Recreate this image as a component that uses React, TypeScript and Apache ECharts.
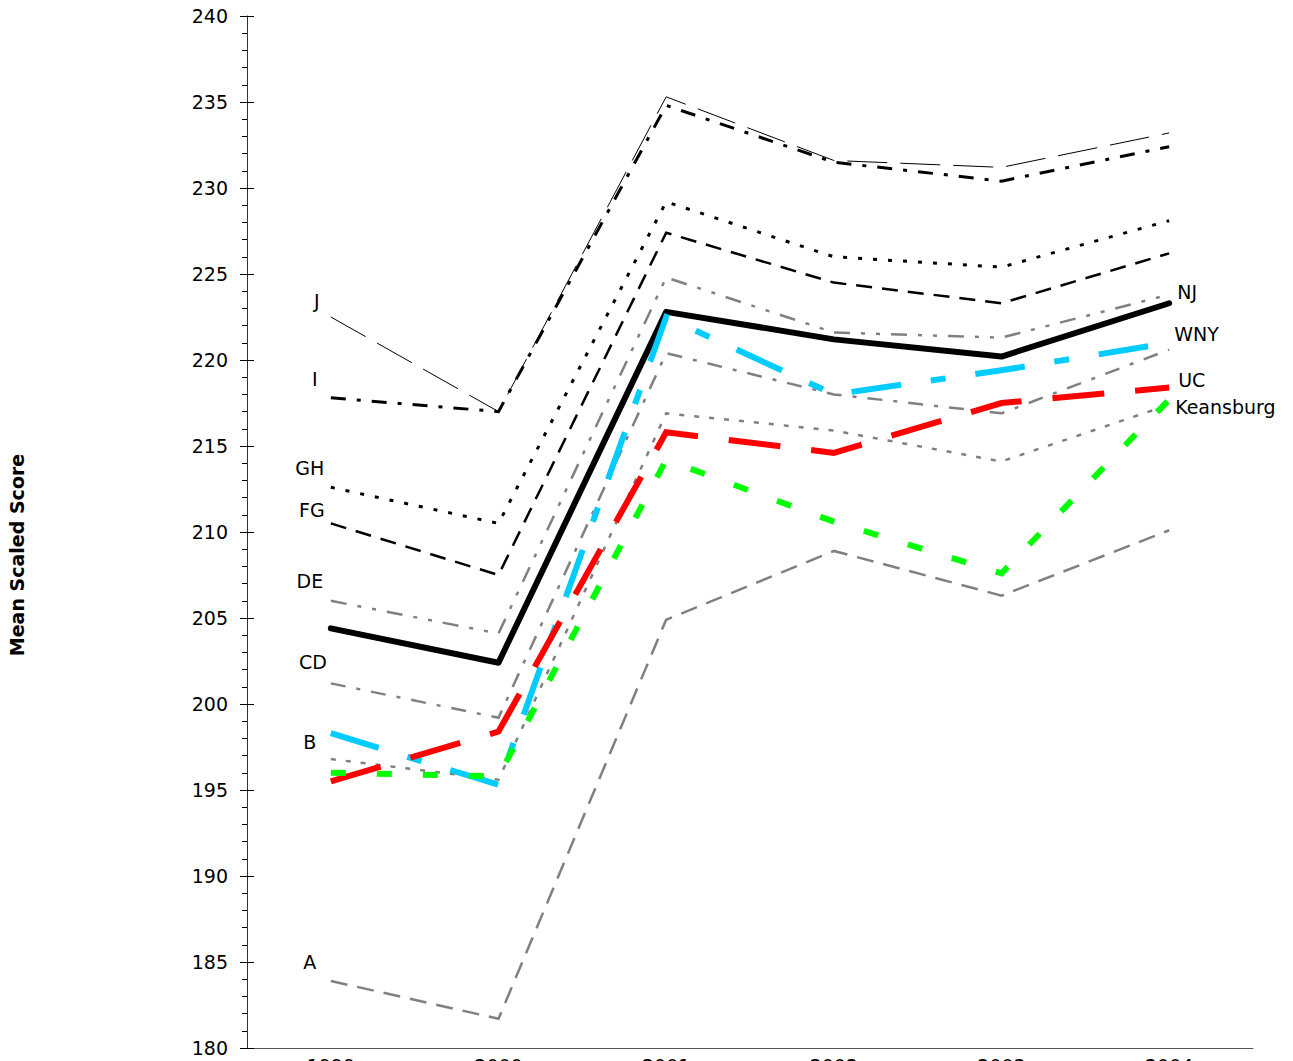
import React, { useEffect, useRef } from 'react';
import * as echarts from 'echarts';

// ---------- data ----------
const years = ['1999', '2000', '2001', '2002', '2003', '2004'];
const yMin = 180;
const yMax = 240;
const yStep = 5;
const yAxisTitle = 'Mean Scaled Score';

const bandJ = [222.5, 217.0, 235.3, 231.6, 231.2, 233.2];
const bandI = [217.8, 217.0, 234.8, 231.5, 230.4, 232.4];
const bandGH = [212.6, 210.5, 229.2, 226.0, 225.4, 228.1];
const bandFG = [210.5, 207.5, 227.4, 224.5, 223.3, 226.2];
const bandDE = [206.0, 204.1, 224.8, 221.6, 221.3, 223.8];
const bandCD = [201.2, 199.2, 220.4, 218.0, 216.9, 220.6];
const bandB = [196.8, 195.6, 216.9, 215.9, 214.1, 217.4];
const bandA = [183.9, 181.7, 204.9, 208.9, 206.3, 210.1];
const njScores = [204.4, 202.4, 222.8, 221.2, 220.2, 223.3];
const wnyScores = [198.3, 195.3, 222.5, 218.0, 219.4, 221.0];
const ucScores = [195.5, 198.4, 215.8, 214.6, 217.5, 218.4];
const keansburgScores = [196.0, 195.8, 214.2, 210.6, 207.6, 217.7];

// ---------- styles ----------
const FONT = 'DejaVu Sans';
const GRAY = '#808080';

type Def = {
  name: string;
  data: number[];
  color: string;
  width: number;
  dash: number[] | 'solid';
  side: 'left' | 'right';
  offset: number[];
  cap?: 'round' | 'butt';
};

const defs: Def[] = [
  { name: 'J', data: bandJ, color: '#000', width: 1, dash: [40, 13], side: 'left', offset: [-14, -16] },
  { name: 'I', data: bandI, color: '#000', width: 3, dash: [15, 11, 4, 11], side: 'left', offset: [-16, -19] },
  { name: 'GH', data: bandGH, color: '#000', width: 3, dash: [4, 11], side: 'left', offset: [-21, -19] },
  { name: 'FG', data: bandFG, color: '#000', width: 2.5, dash: [16, 10], side: 'left', offset: [-19, -13] },
  { name: 'DE', data: bandDE, color: GRAY, width: 2.5, dash: [16, 11, 4, 11, 4, 11], side: 'left', offset: [-21, -20] },
  { name: 'CD', data: bandCD, color: GRAY, width: 2.5, dash: [15, 11, 4, 11], side: 'left', offset: [-18, -21] },
  { name: 'B', data: bandB, color: GRAY, width: 2.5, dash: [5, 10], side: 'left', offset: [-21, -17] },
  { name: 'A', data: bandA, color: GRAY, width: 2.5, dash: [17, 10], side: 'left', offset: [-21, -19] },
  { name: 'NJ', data: njScores, color: '#000', width: 6, dash: 'solid', side: 'right', offset: [7, -11], cap: 'round' },
  { name: 'WNY', data: wnyScores, color: '#00CCFF', width: 6, dash: [50, 30, 15, 30], side: 'right', offset: [4, -9] },
  { name: 'UC', data: ucScores, color: '#FF0000', width: 6, dash: [52, 31], side: 'right', offset: [8, -8] },
  { name: 'Keansburg', data: keansburgScores, color: '#00FF00', width: 6, dash: [15, 31], side: 'right', offset: [5, 7] },
];

function buildSeries() {
  return defs.map((d) => {
    const labelIdx = d.side === 'left' ? 0 : d.data.length - 1;
    return {
      type: 'line',
      name: d.name,
      silent: true,
      symbol: 'circle',
      symbolSize: 2,
      showSymbol: true,
      itemStyle: { color: 'rgba(0,0,0,0)' },
      lineStyle: {
        color: d.color,
        width: d.width,
        type: d.dash,
        cap: d.cap || 'butt',
        join: d.cap ? 'round' : 'miter',
      },
      emphasis: { disabled: true },
      data: d.data.map((v, i) =>
        i === labelIdx
          ? {
              value: v,
              label: {
                show: true,
                formatter: d.name,
                position: d.side === 'left' ? 'inside' : 'right',
                distance: 0,
                offset: d.offset,
                color: '#000',
                fontFamily: FONT,
                fontSize: 19,
              },
            }
          : v
      ),
    };
  });
}

export default function App() {
  const ref = useRef<HTMLDivElement>(null);
  useEffect(() => {
    if (!ref.current) return;
    document.documentElement.style.overflow = 'hidden';
    document.body.style.overflow = 'hidden';
    document.body.style.margin = '0';
    const chart = echarts.init(ref.current, undefined, { renderer: 'svg' });
    chart.setOption({
      animation: false,
      backgroundColor: '#fff',
      grid: { left: 247, top: 16, right: 40, height: 1032, containLabel: false },
      xAxis: {
        type: 'category',
        data: years,
        boundaryGap: true,
        axisLine: { show: true, lineStyle: { color: '#555', width: 1 } },
        axisTick: { show: false },
        axisLabel: { color: '#000', fontFamily: FONT, fontSize: 19, margin: 8 },
        splitLine: { show: false },
      },
      yAxis: [
        {
          type: 'value',
          min: yMin,
          max: yMax,
          interval: yStep,
          position: 'left',
          axisLine: { show: true, lineStyle: { color: '#333', width: 1 } },
          axisTick: { show: true, inside: false, length: 7, lineStyle: { color: '#000' } },
          minorTick: { show: true, splitNumber: 5, length: 5, lineStyle: { color: '#000' } },
          axisLabel: { color: '#000', fontFamily: FONT, fontSize: 19, margin: 19 },
          splitLine: { show: false },
        },
        {
          type: 'value',
          min: yMin,
          max: yMax,
          interval: yStep,
          position: 'left',
          axisLine: { show: false },
          axisTick: { show: true, inside: true, length: 7, lineStyle: { color: '#000' } },
          axisLabel: { show: false },
          splitLine: { show: false },
        },
      ],
      graphic: [
        {
          type: 'text',
          x: 17,
          y: 555,
          rotation: Math.PI / 2,
          style: {
            text: yAxisTitle,
            fontFamily: FONT,
            fontWeight: 'bold',
            fontSize: 19,
            fill: '#000',
            align: 'center',
            verticalAlign: 'middle',
          },
        },
      ],
      series: buildSeries(),
    });
    return () => chart.dispose();
  }, []);
  return (
    <div
      ref={ref}
      style={{ position: 'absolute', left: 0, top: 0, width: 1293, height: 1100 }}
    />
  );
}
